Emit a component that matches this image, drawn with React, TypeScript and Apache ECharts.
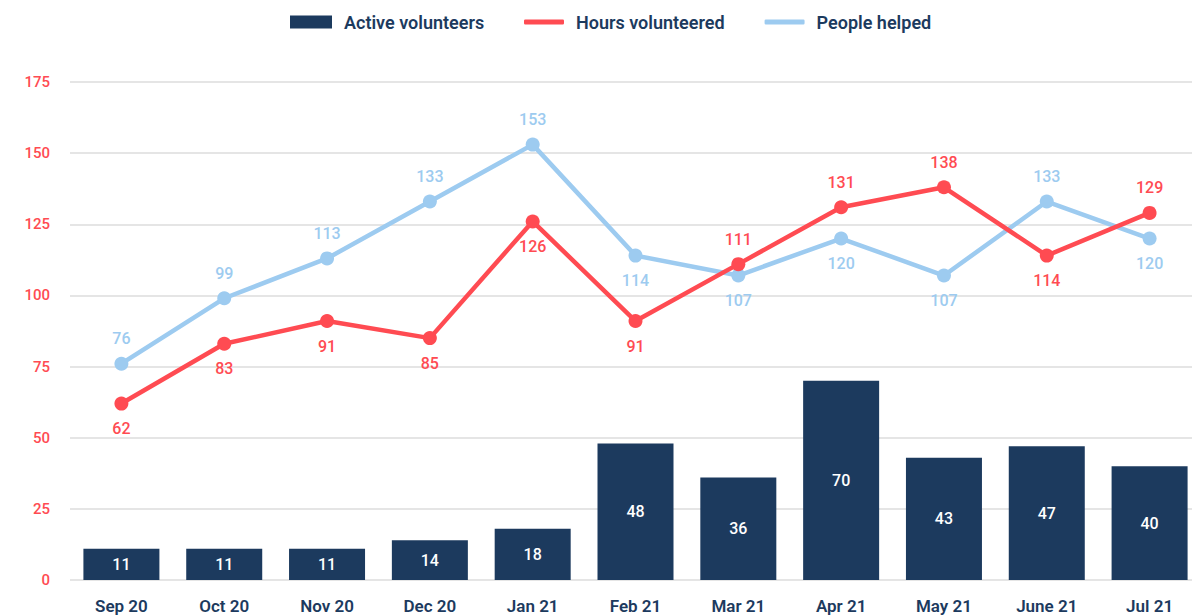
import React, { useEffect, useRef } from "react";
import * as echarts from "echarts";

const categories = ["Sep 20", "Oct 20", "Nov 20", "Dec 20", "Jan 21", "Feb 21", "Mar 21", "Apr 21", "May 21", "June 21", "Jul 21"];
const activeVolunteers = [11, 11, 11, 14, 18, 48, 36, 70, 43, 47, 40];
const hoursVolunteered = [62, 83, 91, 85, 126, 91, 111, 131, 138, 114, 129];
const peopleHelped = [76, 99, 113, 133, 153, 114, 107, 120, 107, 133, 120];
const hoursLabelPos = ["bottom", "bottom", "bottom", "bottom", "bottom", "bottom", "top", "top", "top", "bottom", "top"];
const peopleLabelPos = ["top", "top", "top", "top", "top", "bottom", "bottom", "bottom", "bottom", "top", "bottom"];

const NAVY = "#1c3a5e";
const RED = "#ff4b52";
const BLUE = "#9dcbf0";
const FONT = "Roboto";

export default function App() {
  const ref = useRef<HTMLDivElement>(null);
  useEffect(() => {
    const chart = echarts.init(ref.current!, null, { renderer: "svg" });
    const labelBase = { show: true, fontFamily: FONT, fontSize: 16, fontWeight: 500, distance: 10 };
    const legendText = { color: NAVY, fontSize: 18, fontWeight: 600, fontFamily: FONT, padding: [0, 0, 0, 7] };
    chart.setOption({
      animation: false,
      textStyle: { fontFamily: FONT },
      legend: [
        {
          top: 8,
          left: 285,
          itemWidth: 42,
          itemHeight: 13,
          textStyle: legendText,
          data: [{ name: "Active volunteers", icon: "rect" }],
        },
        {
          top: 8,
          left: 519,
          itemGap: 40,
          itemWidth: 40,
          itemHeight: 5,
          textStyle: legendText,
          data: [
            { name: "Hours volunteered", icon: "roundRect", itemStyle: { color: RED } },
            { name: "People helped", icon: "roundRect", itemStyle: { color: BLUE } },
          ],
        },
      ],
      grid: { left: 70, top: 82, height: 498, width: 1131, containLabel: false },
      xAxis: {
        type: "category",
        data: categories,
        axisLine: { show: false },
        axisTick: { show: false },
        axisLabel: { color: NAVY, fontSize: 17, fontWeight: 600, fontFamily: FONT, margin: 17 },
      },
      yAxis: {
        type: "value",
        min: 0,
        max: 175,
        interval: 25,
        axisLine: { show: false },
        axisTick: { show: false },
        splitLine: { lineStyle: { color: "#dcdcdc", width: 1.5 } },
        axisLabel: { color: RED, fontSize: 15, fontWeight: 500, fontFamily: FONT, margin: 20 },
      },
      series: [
        {
          name: "Active volunteers",
          type: "bar",
          data: activeVolunteers,
          barWidth: 76,
          itemStyle: { color: NAVY },
          label: { ...labelBase, position: "inside", color: "#ffffff" },
          z: 1,
        },
        {
          name: "Hours volunteered",
          type: "line",
          data: hoursVolunteered.map((v, i) => ({ value: v, label: { position: hoursLabelPos[i] } })),
          symbol: "circle",
          symbolSize: 14,
          lineStyle: { color: RED, width: 4.5 },
          itemStyle: { color: RED },
          label: { ...labelBase, color: RED },
          z: 3,
        },
        {
          name: "People helped",
          type: "line",
          data: peopleHelped.map((v, i) => ({ value: v, label: { position: peopleLabelPos[i] } })),
          symbol: "circle",
          symbolSize: 14,
          lineStyle: { color: BLUE, width: 4.5 },
          itemStyle: { color: BLUE },
          label: { ...labelBase, color: BLUE },
          z: 2,
        },
      ],
    });
    return () => chart.dispose();
  }, []);
  return (
    <div style={{ width: 1192, height: 616, position: "absolute", left: 0, top: 0, overflow: "hidden" }}>
      <div ref={ref} style={{ width: 1210, height: 616 }} />
    </div>
  );
}
